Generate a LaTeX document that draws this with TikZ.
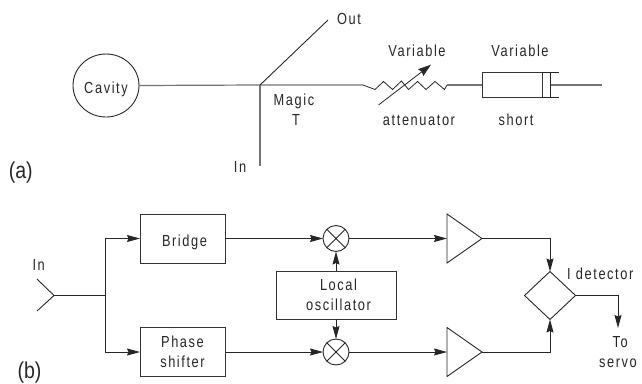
\documentclass[tikz,border=0pt]{standalone}
\usepackage{fontspec}
\setmainfont{Liberation Sans}[FakeStretch=0.8,LetterSpace=10]
\newfontfamily\bigfont{Liberation Sans}[FakeStretch=0.85]
\usetikzlibrary{arrows.meta,shapes.geometric}
\tikzset{
  x=1pt,y=-1pt,
  lbl/.style={inner sep=0pt,anchor=base,font=\fontsize{16}{20}\selectfont,text=black!85},
  tag/.style={inner sep=0pt,anchor=base,font=\bigfont\fontsize{23}{24}\selectfont,text=black!85},
  wire/.style={line width=0.9pt,draw=black!85},
  wg/.style={line width=1.2pt,draw=black!55},
  flow/.style={wire,-{Stealth[length=13pt,width=7pt,inset=1.5pt]}},
  box/.style={draw=black!80,line width=1pt,rectangle,inner sep=0pt,outer sep=0pt,minimum width=85pt,minimum height=49pt,font=\fontsize{16}{20}\selectfont,align=center,text=black!85},
  mixer/.style={draw=black!85,line width=0.9pt,circle,inner sep=0pt,outer sep=0pt,minimum size=26pt},
  ghost/.style={rectangle,inner sep=0pt,outer sep=0pt},
}
\begin{document}
\begin{tikzpicture}
\useasboundingbox (0,0) rectangle (642,383);
% ---- (a)
\node[ellipse,draw=black!85,line width=0.9pt,inner sep=0pt,outer sep=0pt,minimum width=66pt,minimum height=63pt,font=\fontsize{16}{20}\selectfont,text=black!85] (cav) at (106,85.5) {\raisebox{-8.2pt}[0pt][0pt]{Cavity}};
\coordinate (T) at (260,85);
\coordinate (outp) at (328,20);
\coordinate (inp) at (260,166);
\coordinate (rs) at (363,85);
\coordinate (re) at (447,85);
\draw[wg] (cav.east) -- (T) -- (rs);
\draw[wg] (T) -- (inp);
\draw[wire] (T) -- (outp);
\draw[wire,line width=0.8pt] (rs) -- (375,89.5) -- (383.5,81.5) -- (392.5,89.5) -- (401.5,81) -- (408.5,89.5) -- (417.5,81.5) -- (426,89.5) -- (435,81.5) -- (444.5,89.5) -- (re);
\draw[wire,line width=0.8pt,-{Stealth[length=13pt,width=8.5pt,inset=1.5pt]}] (378.5,105) -- (431,64.7);
\node[ghost,draw=black!80,line width=1pt,minimum width=60pt,minimum height=25pt,anchor=north west] (sh) at (482,72.5) {};
\coordinate (shR) at (602,85);
\draw[wg] (re) -- (sh.west);
\draw[wire] (550.5,72.5) -- (550.5,97.5);
\draw[wire] (sh.north east) -- (559,72.5) (sh.south east) -- (559,97.5);
\draw[wg] (551,85) -- (shR);
\node[lbl] (lout) at (349,24) {Out};
\node[lbl] (lv1) at (417,56) {Variable};
\node[lbl] (lv2) at (520,56) {Variable};
\node[lbl] (lat) at (419,125) {attenuator};
\node[lbl] (lsh) at (516,125) {short};
\node[lbl] (lm) at (294,105.5) {Magic};
\node[lbl] (lt) at (296,125) {T};
\node[lbl] (lin) at (240,172.5) {In};
\node[tag] (ta) at (20.8,178) {(a)};
% ---- (b)
\node[box] (bridge) at (182.5,238.5) {\raisebox{-7.5pt}[0pt][0pt]{\hspace*{4pt}Bridge}};
\node[box] (phase) at (182.5,352) {Phase\\shifter};
\node[box,minimum width=120pt,minimum height=48pt] (lo) at (336,295) {\hspace*{5pt}Local\\\hspace*{5pt}oscillator};
\node[mixer] (m1) at (336,238.5) {};
\node[mixer] (m2) at (336,352) {};
\foreach \m in {m1,m2}{
  \draw[wire] (\m.45) -- (\m.225) (\m.135) -- (\m.315);
}
\node[ghost,minimum width=35pt,minimum height=49pt] (a1) at (464.5,238.5) {};
\node[ghost,minimum width=35pt,minimum height=49pt] (a2) at (464.5,352) {};
\foreach \a in {a1,a2}{
  \draw[wire,line join=miter] (\a.north west) -- (\a.east) -- (\a.south west) -- cycle;
}
\node[ghost,minimum width=51pt,minimum height=48pt] (det) at (550,295.5) {};
\draw[wire] (det.north) -- (det.east) -- (det.south) -- (det.west) -- cycle;
\coordinate (tip) at (54,295.5);
\coordinate (arm1) at (37,279);
\coordinate (arm2) at (37,311);
\coordinate (split) at (105.5,295.5);
\coordinate (servo) at (618,328);
\draw[wire] (arm1) -- (tip) -- (arm2);
\draw[wire] (tip) -- (split);
\draw[flow] (split) |- (bridge.west);
\draw[flow] (split) |- (phase.west);
\draw[flow] (bridge.east) -- (m1.west);
\draw[flow] (phase.east) -- (m2.west);
\draw[flow] (m1.east) -- (a1.west);
\draw[flow] (m2.east) -- (a2.west);
\draw[flow] (lo.north) -- (m1.south);
\draw[flow] (lo.south) -- (m2.north);
\draw[flow] (a1.east) -| (det.north);
\draw[flow] (a2.east) -| (det.south);
\draw[flow] (det.east) -| (servo);
\node[lbl] (lin2) at (38.7,270) {In};
\node[lbl] (ldet) at (600.3,279) {I detector};
\node[lbl] (lto) at (620.3,347.7) {To};
\node[lbl] (lse) at (618,367.7) {servo};
\node[tag] (tb) at (29.5,378) {(b)};
\end{tikzpicture}
\end{document}
